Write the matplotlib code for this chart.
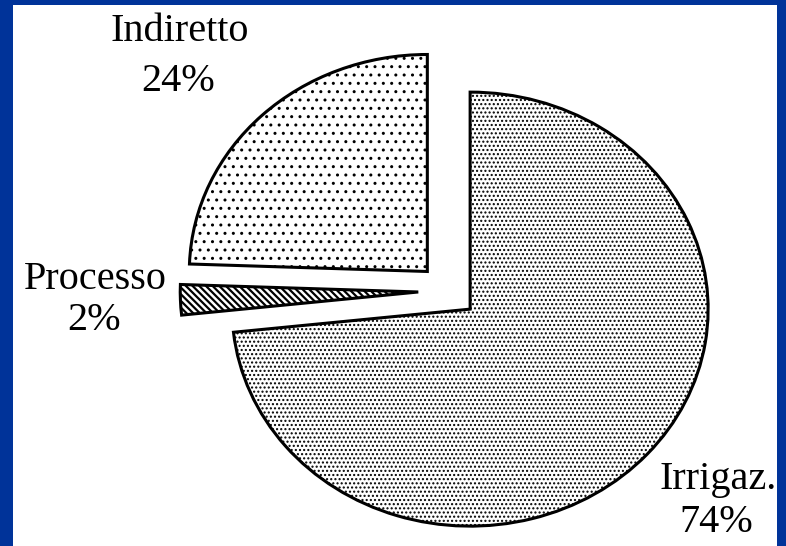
import matplotlib
matplotlib.use("Agg")
import matplotlib.pyplot as plt
from matplotlib.patches import Rectangle

# ---- data ----
categories = ["Irrigaz.", "Processo", "Indiretto"]
values = [73.3, 2.25, 24.45]          # wedge sizes as drawn in the picture
pct_labels = ["74%", "2%", "24%"]     # labels as printed
hatches = ["....", "\\\\\\\\\\", ".."]
hatch_lws = [1.0, 1.6, 1.0]

W, H = 786, 546
plt.rcParams['font.family'] = ['Liberation Serif', 'DejaVu Serif']
plt.rcParams['hatch.linewidth'] = 1.0

fig = plt.figure(figsize=(W / 100, H / 100), dpi=100)
fig.patch.set_facecolor('#003399')

ax = fig.add_axes([0, 0, 1, 1])
ax.patch.set_alpha(0)

# pie center in pixels and radii (ellipse)
cx, cy = 448, 291
rx, ry = 238, 217

wedges, _ = ax.pie(values, explode=[0.125] * 3, startangle=90,
                   counterclock=False, radius=1.0,
                   colors=['white'] * 3,
                   wedgeprops=dict(edgecolor='black', linewidth=2.2))
for w, h, hl in zip(wedges, hatches, hatch_lws):
    w.set_hatch(h)
    if hasattr(w, "set_hatch_linewidth"):
        w.set_hatch_linewidth(hl)

ax.set_aspect('auto')
ax.set_xlim(-cx / rx, (W - cx) / rx)
ax.set_ylim((cy - H) / ry, cy / ry)
ax.axis('off')

# white panel inside the blue frame
ax.add_patch(Rectangle((13 / W, 0), (777 - 13) / W, (H - 5) / H,
                       transform=ax.transAxes, facecolor='white',
                       edgecolor='none', zorder=-10))

# label positions (pixels): name center x, name baseline, pct center x, pct baseline
label_pos = {
    "Irrigaz.": (718, 489, 716, 532),
    "Processo": (95, 289, 94, 330),
    "Indiretto": (180, 41, 178, 91),
}
for name, lab in zip(categories, pct_labels):
    nx, ny, px, py = label_pos[name]
    fig.text(nx / W, 1 - ny / H, name, ha='center', va='baseline', fontsize=29)
    fig.text(px / W, 1 - py / H, lab, ha='center', va='baseline', fontsize=29)

fig.savefig("out.png", dpi=100, facecolor=fig.get_facecolor())
